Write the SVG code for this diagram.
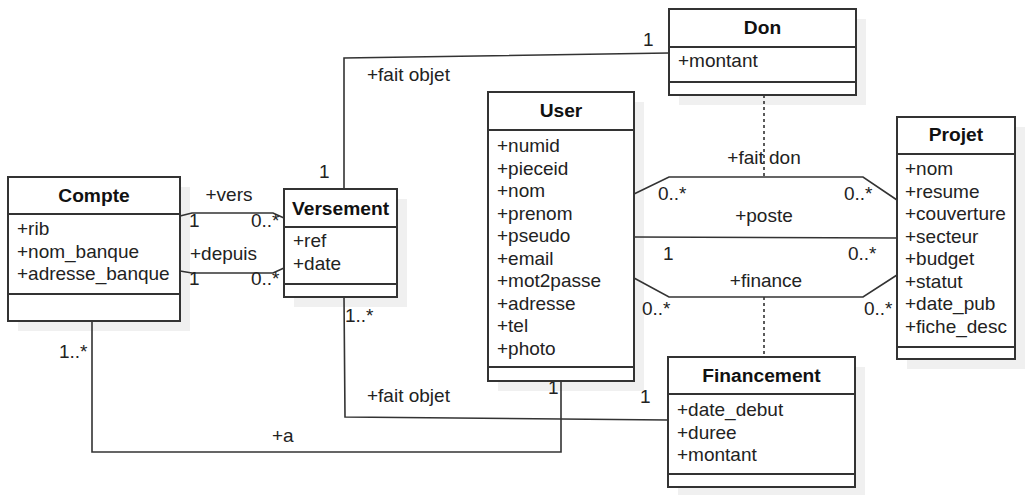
<svg xmlns="http://www.w3.org/2000/svg" width="1028" height="495" viewBox="0 0 1028 495">
<style>
.sh{fill:#f0f0f0;stroke:none}
.box{fill:#fff;stroke:#333;stroke-width:2}
.sep{stroke:#333;stroke-width:2}
.t{font-family:"Liberation Sans",Arial,sans-serif;font-size:19px;fill:#222}
.h{font-family:"Liberation Sans",Arial,sans-serif;font-size:19.2px;font-weight:bold;fill:#111;text-anchor:middle}
.c{text-anchor:middle}
.ln{fill:none;stroke:#333;stroke-width:1.6}
.ds{fill:none;stroke:#333;stroke-width:1.6;stroke-dasharray:3 3}
</style>
<rect width="1028" height="495" fill="#fff"/>
<g id="shadows">
<rect class="sh" x="18" y="187" width="172" height="144"/>
<rect class="sh" x="294" y="199" width="113" height="108"/>
<rect class="sh" x="679" y="19" width="187" height="86"/>
<rect class="sh" x="498" y="102" width="146" height="289"/>
<rect class="sh" x="907" y="127" width="118" height="242"/>
<rect class="sh" x="678" y="367" width="187" height="130"/>
</g>
<g id="connectors">
<polyline class="ln" points="180,216 192,213 273,213 284,218"/>
<polyline class="ln" points="180,271 192,273 273,273 284,268"/>
<polyline class="ln" points="669,53 344,58 344,189"/>
<polyline class="ln" points="634,194 669,177 863,177 897,200"/>
<polyline class="ln" points="634,237 897,238"/>
<polyline class="ln" points="634,278 669,297 863,297 897,275"/>
<line class="ds" x1="764" y1="95" x2="764" y2="177"/>
<line class="ds" x1="764" y1="297" x2="764" y2="357"/>
<polyline class="ln" points="344,297 345,417 668,420"/>
<polyline class="ln" points="92,321 92,452 561,452 561,381"/>
<g class="t">
<text x="229" y="201" class="c">+vers</text>
<text x="189" y="227">1</text>
<text x="251" y="227">0..*</text>
<text x="190" y="260">+depuis</text>
<text x="189" y="285">1</text>
<text x="251" y="285">0..*</text>
<text x="367" y="81">+fait objet</text>
<text x="643" y="46">1</text>
<text x="319" y="178">1</text>
<text x="764" y="164" class="c">+fait don</text>
<text x="658" y="200">0..*</text>
<text x="844" y="200">0..*</text>
<text x="764" y="222" class="c">+poste</text>
<text x="663" y="260">1</text>
<text x="848" y="260">0..*</text>
<text x="766" y="287" class="c">+finance</text>
<text x="642" y="315">0..*</text>
<text x="864" y="315">0..*</text>
<text x="345" y="322">1..*</text>
<text x="367" y="402">+fait objet</text>
<text x="640" y="403">1</text>
<text x="59" y="358">1..*</text>
<text x="272" y="442">+a</text>
<text x="548" y="394">1</text>
</g>
</g>
<g id="Compte">
<rect class="box" x="8" y="177" width="172" height="144"/>
<line class="sep" x1="8" y1="214" x2="180" y2="214"/>
<line class="sep" x1="8" y1="294" x2="180" y2="294"/>
<text class="h" x="94" y="202">Compte</text>
<text class="t" x="17" y="235">+rib</text>
<text class="t" x="17" y="257.5">+nom_banque</text>
<text class="t" x="17" y="280">+adresse_banque</text>
</g>
<g id="Versement">
<rect class="box" x="284" y="189" width="113" height="108"/>
<line class="sep" x1="284" y1="227" x2="397" y2="227"/>
<line class="sep" x1="284" y1="284" x2="397" y2="284"/>
<text class="h" x="340.5" y="215">Versement</text>
<text class="t" x="293" y="247">+ref</text>
<text class="t" x="293" y="270">+date</text>
</g>
<g id="Don">
<rect class="box" x="669" y="9" width="187" height="86"/>
<line class="sep" x1="669" y1="47" x2="856" y2="47"/>
<line class="sep" x1="669" y1="82" x2="856" y2="82"/>
<text class="h" x="762.5" y="34">Don</text>
<text class="t" x="678" y="67">+montant</text>
</g>
<g id="User">
<rect class="box" x="488" y="92" width="146" height="289"/>
<line class="sep" x1="488" y1="130" x2="634" y2="130"/>
<line class="sep" x1="488" y1="367" x2="634" y2="367"/>
<text class="h" x="561" y="117">User</text>
<text class="t" x="497" y="152">+numid</text>
<text class="t" x="497" y="174.5">+pieceid</text>
<text class="t" x="497" y="197">+nom</text>
<text class="t" x="497" y="219.5">+prenom</text>
<text class="t" x="497" y="242">+pseudo</text>
<text class="t" x="497" y="264.5">+email</text>
<text class="t" x="497" y="287">+mot2passe</text>
<text class="t" x="497" y="309.5">+adresse</text>
<text class="t" x="497" y="332">+tel</text>
<text class="t" x="497" y="354.5">+photo</text>
</g>
<g id="Projet">
<rect class="box" x="897" y="117" width="118" height="242"/>
<line class="sep" x1="897" y1="154" x2="1015" y2="154"/>
<line class="sep" x1="897" y1="347" x2="1015" y2="347"/>
<text class="h" x="956" y="141">Projet</text>
<text class="t" x="905" y="175">+nom</text>
<text class="t" x="905" y="197.5">+resume</text>
<text class="t" x="905" y="220">+couverture</text>
<text class="t" x="905" y="242.5">+secteur</text>
<text class="t" x="905" y="265">+budget</text>
<text class="t" x="905" y="287.5">+statut</text>
<text class="t" x="905" y="310">+date_pub</text>
<text class="t" x="905" y="332.5">+fiche_desc</text>
</g>
<g id="Financement">
<rect class="box" x="668" y="357" width="187" height="130"/>
<line class="sep" x1="668" y1="394" x2="855" y2="394"/>
<line class="sep" x1="668" y1="474" x2="855" y2="474"/>
<text class="h" x="761.5" y="382">Financement</text>
<text class="t" x="677" y="416">+date_debut</text>
<text class="t" x="677" y="438.5">+duree</text>
<text class="t" x="677" y="461">+montant</text>
</g>
</svg>
